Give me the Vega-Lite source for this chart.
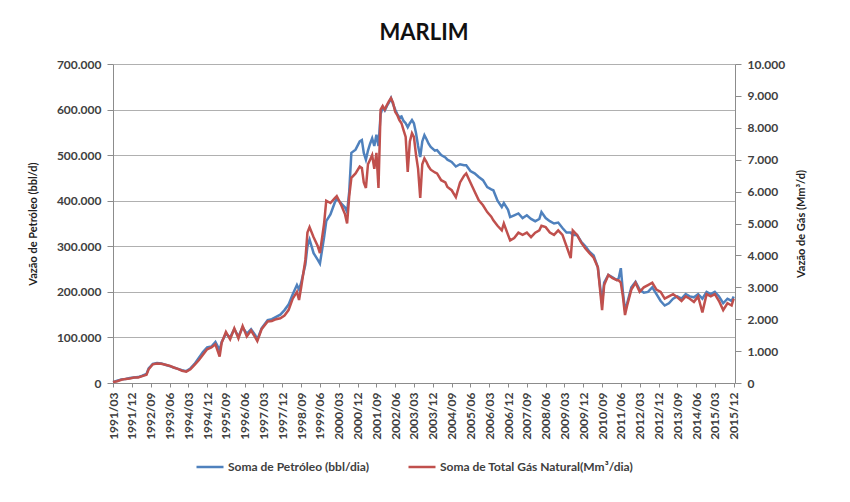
{
  "$schema": "https://vega.github.io/schema/vega-lite/v6.json",
  "width": 622,
  "height": 319,
  "autosize": {"type": "none"},
  "padding": {"left": 113, "top": 64, "right": 115, "bottom": 119},
  "background": "white",
  "title": {"text": "MARLIM", "fontSize": 22, "font": "Lato", "fontWeight": "bold", "color": "#111111", "offset": 13, "anchor": "middle"},
  "data": {"values": [
    {"date": "1991-03-01", "petroleo": 2000, "gas": 29},
    {"date": "1991-05-01", "petroleo": 5000, "gas": 57},
    {"date": "1991-07-01", "petroleo": 8000, "gas": 100},
    {"date": "1991-09-01", "petroleo": 9000, "gas": 129},
    {"date": "1991-11-01", "petroleo": 11000, "gas": 143},
    {"date": "1992-01-01", "petroleo": 12000, "gas": 171},
    {"date": "1992-03-01", "petroleo": 13000, "gas": 171},
    {"date": "1992-05-01", "petroleo": 16000, "gas": 214},
    {"date": "1992-07-01", "petroleo": 20000, "gas": 257},
    {"date": "1992-08-01", "petroleo": 32000, "gas": 429},
    {"date": "1992-10-01", "petroleo": 42000, "gas": 586},
    {"date": "1992-12-01", "petroleo": 44000, "gas": 614},
    {"date": "1993-02-01", "petroleo": 43000, "gas": 600},
    {"date": "1993-04-01", "petroleo": 40000, "gas": 571},
    {"date": "1993-06-01", "petroleo": 37000, "gas": 543},
    {"date": "1993-08-01", "petroleo": 34000, "gas": 486},
    {"date": "1993-10-01", "petroleo": 31000, "gas": 443},
    {"date": "1993-12-01", "petroleo": 28000, "gas": 386},
    {"date": "1994-02-01", "petroleo": 26000, "gas": 357},
    {"date": "1994-04-01", "petroleo": 32000, "gas": 429},
    {"date": "1994-06-01", "petroleo": 42000, "gas": 571},
    {"date": "1994-08-01", "petroleo": 55000, "gas": 714},
    {"date": "1994-10-01", "petroleo": 68000, "gas": 886},
    {"date": "1994-12-01", "petroleo": 78000, "gas": 1057},
    {"date": "1995-02-01", "petroleo": 80000, "gas": 1114},
    {"date": "1995-04-01", "petroleo": 90000, "gas": 1214},
    {"date": "1995-06-01", "petroleo": 72000, "gas": 829},
    {"date": "1995-07-01", "petroleo": 90000, "gas": 1257},
    {"date": "1995-09-01", "petroleo": 108000, "gas": 1600},
    {"date": "1995-11-01", "petroleo": 100000, "gas": 1371},
    {"date": "1996-01-01", "petroleo": 118000, "gas": 1714},
    {"date": "1996-03-01", "petroleo": 102000, "gas": 1400},
    {"date": "1996-05-01", "petroleo": 122000, "gas": 1786},
    {"date": "1996-07-01", "petroleo": 108000, "gas": 1457},
    {"date": "1996-09-01", "petroleo": 118000, "gas": 1643},
    {"date": "1996-11-01", "petroleo": 105000, "gas": 1429},
    {"date": "1996-12-01", "petroleo": 95000, "gas": 1314},
    {"date": "1997-02-01", "petroleo": 120000, "gas": 1686},
    {"date": "1997-05-01", "petroleo": 138000, "gas": 1929},
    {"date": "1997-07-01", "petroleo": 140000, "gas": 1943},
    {"date": "1997-09-01", "petroleo": 145000, "gas": 2000},
    {"date": "1997-11-01", "petroleo": 150000, "gas": 2029},
    {"date": "1998-01-01", "petroleo": 160000, "gas": 2114},
    {"date": "1998-03-01", "petroleo": 172000, "gas": 2286},
    {"date": "1998-05-01", "petroleo": 195000, "gas": 2643},
    {"date": "1998-07-01", "petroleo": 215000, "gas": 2857},
    {"date": "1998-08-01", "petroleo": 205000, "gas": 2600},
    {"date": "1998-09-01", "petroleo": 220000, "gas": 3000},
    {"date": "1998-11-01", "petroleo": 260000, "gas": 3857},
    {"date": "1998-12-01", "petroleo": 300000, "gas": 4714},
    {"date": "1999-01-01", "petroleo": 315000, "gas": 4886},
    {"date": "1999-03-01", "petroleo": 285000, "gas": 4571},
    {"date": "1999-05-01", "petroleo": 270000, "gas": 4286},
    {"date": "1999-06-01", "petroleo": 262000, "gas": 4071},
    {"date": "1999-08-01", "petroleo": 320000, "gas": 5000},
    {"date": "1999-09-01", "petroleo": 355000, "gas": 5714},
    {"date": "1999-11-01", "petroleo": 370000, "gas": 5643},
    {"date": "2000-01-01", "petroleo": 395000, "gas": 5786},
    {"date": "2000-02-01", "petroleo": 405000, "gas": 5857},
    {"date": "2000-04-01", "petroleo": 395000, "gas": 5600},
    {"date": "2000-06-01", "petroleo": 385000, "gas": 5286},
    {"date": "2000-07-01", "petroleo": 375000, "gas": 5000},
    {"date": "2000-08-01", "petroleo": 420000, "gas": 5857},
    {"date": "2000-09-01", "petroleo": 505000, "gas": 6429},
    {"date": "2000-11-01", "petroleo": 512000, "gas": 6571},
    {"date": "2001-01-01", "petroleo": 530000, "gas": 6786},
    {"date": "2001-02-01", "petroleo": 533000, "gas": 6743},
    {"date": "2001-03-01", "petroleo": 505000, "gas": 6286},
    {"date": "2001-04-01", "petroleo": 490000, "gas": 6114},
    {"date": "2001-05-01", "petroleo": 510000, "gas": 6857},
    {"date": "2001-06-01", "petroleo": 525000, "gas": 7000},
    {"date": "2001-07-01", "petroleo": 537000, "gas": 7143},
    {"date": "2001-08-01", "petroleo": 520000, "gas": 6714},
    {"date": "2001-09-01", "petroleo": 545000, "gas": 7214},
    {"date": "2001-10-01", "petroleo": 520000, "gas": 6114},
    {"date": "2001-11-01", "petroleo": 590000, "gas": 8571},
    {"date": "2001-12-01", "petroleo": 605000, "gas": 8686},
    {"date": "2002-01-01", "petroleo": 598000, "gas": 8571},
    {"date": "2002-02-01", "petroleo": 608000, "gas": 8714},
    {"date": "2002-03-01", "petroleo": 615000, "gas": 8829},
    {"date": "2002-04-01", "petroleo": 625000, "gas": 8929},
    {"date": "2002-05-01", "petroleo": 612000, "gas": 8786},
    {"date": "2002-06-01", "petroleo": 600000, "gas": 8500},
    {"date": "2002-07-01", "petroleo": 590000, "gas": 8400},
    {"date": "2002-08-01", "petroleo": 583000, "gas": 8243},
    {"date": "2002-09-01", "petroleo": 585000, "gas": 8143},
    {"date": "2002-10-01", "petroleo": 575000, "gas": 7929},
    {"date": "2002-11-01", "petroleo": 570000, "gas": 7714},
    {"date": "2002-12-01", "petroleo": 561000, "gas": 6614},
    {"date": "2003-01-01", "petroleo": 570000, "gas": 7571},
    {"date": "2003-02-01", "petroleo": 577000, "gas": 7829},
    {"date": "2003-03-01", "petroleo": 570000, "gas": 7714},
    {"date": "2003-04-01", "petroleo": 548000, "gas": 7143},
    {"date": "2003-05-01", "petroleo": 520000, "gas": 6714},
    {"date": "2003-06-01", "petroleo": 496000, "gas": 5800},
    {"date": "2003-07-01", "petroleo": 530000, "gas": 6857},
    {"date": "2003-08-01", "petroleo": 544000, "gas": 7043},
    {"date": "2003-09-01", "petroleo": 535000, "gas": 6929},
    {"date": "2003-10-01", "petroleo": 525000, "gas": 6786},
    {"date": "2003-11-01", "petroleo": 518000, "gas": 6686},
    {"date": "2004-01-01", "petroleo": 510000, "gas": 6600},
    {"date": "2004-02-01", "petroleo": 511000, "gas": 6571},
    {"date": "2004-04-01", "petroleo": 500000, "gas": 6357},
    {"date": "2004-06-01", "petroleo": 495000, "gas": 6286},
    {"date": "2004-07-01", "petroleo": 490000, "gas": 6143},
    {"date": "2004-09-01", "petroleo": 485000, "gas": 6043},
    {"date": "2004-11-01", "petroleo": 475000, "gas": 5829},
    {"date": "2005-01-01", "petroleo": 480000, "gas": 6286},
    {"date": "2005-03-01", "petroleo": 478000, "gas": 6500},
    {"date": "2005-04-01", "petroleo": 478000, "gas": 6571},
    {"date": "2005-06-01", "petroleo": 465000, "gas": 6286},
    {"date": "2005-08-01", "petroleo": 460000, "gas": 6000},
    {"date": "2005-10-01", "petroleo": 452000, "gas": 5729},
    {"date": "2005-12-01", "petroleo": 445000, "gas": 5571},
    {"date": "2006-02-01", "petroleo": 430000, "gas": 5357},
    {"date": "2006-04-01", "petroleo": 425000, "gas": 5214},
    {"date": "2006-05-01", "petroleo": 423000, "gas": 5100},
    {"date": "2006-07-01", "petroleo": 400000, "gas": 4929},
    {"date": "2006-09-01", "petroleo": 386000, "gas": 4786},
    {"date": "2006-10-01", "petroleo": 395000, "gas": 5000},
    {"date": "2006-12-01", "petroleo": 380000, "gas": 4643},
    {"date": "2007-01-01", "petroleo": 364000, "gas": 4471},
    {"date": "2007-03-01", "petroleo": 368000, "gas": 4543},
    {"date": "2007-05-01", "petroleo": 372000, "gas": 4714},
    {"date": "2007-07-01", "petroleo": 362000, "gas": 4643},
    {"date": "2007-09-01", "petroleo": 368000, "gas": 4714},
    {"date": "2007-11-01", "petroleo": 360000, "gas": 4571},
    {"date": "2008-01-01", "petroleo": 355000, "gas": 4714},
    {"date": "2008-03-01", "petroleo": 360000, "gas": 4786},
    {"date": "2008-04-01", "petroleo": 375000, "gas": 4929},
    {"date": "2008-06-01", "petroleo": 362000, "gas": 4886},
    {"date": "2008-08-01", "petroleo": 355000, "gas": 4714},
    {"date": "2008-10-01", "petroleo": 350000, "gas": 4643},
    {"date": "2008-12-01", "petroleo": 352000, "gas": 4786},
    {"date": "2009-02-01", "petroleo": 340000, "gas": 4643},
    {"date": "2009-04-01", "petroleo": 330000, "gas": 4286},
    {"date": "2009-06-01", "petroleo": 330000, "gas": 3914},
    {"date": "2009-07-01", "petroleo": 325000, "gas": 4786},
    {"date": "2009-09-01", "petroleo": 325000, "gas": 4643},
    {"date": "2009-11-01", "petroleo": 310000, "gas": 4400},
    {"date": "2010-01-01", "petroleo": 300000, "gas": 4214},
    {"date": "2010-03-01", "petroleo": 288000, "gas": 4071},
    {"date": "2010-05-01", "petroleo": 280000, "gas": 3929},
    {"date": "2010-07-01", "petroleo": 254000, "gas": 3629},
    {"date": "2010-09-01", "petroleo": 175000, "gas": 2286},
    {"date": "2010-10-01", "petroleo": 220000, "gas": 3071},
    {"date": "2010-12-01", "petroleo": 237000, "gas": 3386},
    {"date": "2011-02-01", "petroleo": 232000, "gas": 3286},
    {"date": "2011-04-01", "petroleo": 226000, "gas": 3229},
    {"date": "2011-05-01", "petroleo": 230000, "gas": 3214},
    {"date": "2011-06-01", "petroleo": 252000, "gas": 3143},
    {"date": "2011-07-01", "petroleo": 200000, "gas": 2714},
    {"date": "2011-08-01", "petroleo": 160000, "gas": 2129},
    {"date": "2011-09-01", "petroleo": 175000, "gas": 2429},
    {"date": "2011-11-01", "petroleo": 210000, "gas": 2929},
    {"date": "2012-01-01", "petroleo": 222000, "gas": 3143},
    {"date": "2012-03-01", "petroleo": 205000, "gas": 2857},
    {"date": "2012-05-01", "petroleo": 198000, "gas": 3000},
    {"date": "2012-07-01", "petroleo": 200000, "gas": 3071},
    {"date": "2012-09-01", "petroleo": 210000, "gas": 3143},
    {"date": "2012-11-01", "petroleo": 195000, "gas": 2929},
    {"date": "2013-01-01", "petroleo": 180000, "gas": 2857},
    {"date": "2013-03-01", "petroleo": 170000, "gas": 2643},
    {"date": "2013-05-01", "petroleo": 175000, "gas": 2714},
    {"date": "2013-07-01", "petroleo": 185000, "gas": 2786},
    {"date": "2013-09-01", "petroleo": 190000, "gas": 2686},
    {"date": "2013-11-01", "petroleo": 185000, "gas": 2571},
    {"date": "2014-01-01", "petroleo": 195000, "gas": 2714},
    {"date": "2014-03-01", "petroleo": 190000, "gas": 2643},
    {"date": "2014-05-01", "petroleo": 188000, "gas": 2543},
    {"date": "2014-07-01", "petroleo": 195000, "gas": 2714},
    {"date": "2014-09-01", "petroleo": 185000, "gas": 2214},
    {"date": "2014-11-01", "petroleo": 200000, "gas": 2786},
    {"date": "2015-01-01", "petroleo": 195000, "gas": 2714},
    {"date": "2015-03-01", "petroleo": 200000, "gas": 2786},
    {"date": "2015-05-01", "petroleo": 190000, "gas": 2571},
    {"date": "2015-07-01", "petroleo": 175000, "gas": 2286},
    {"date": "2015-09-01", "petroleo": 185000, "gas": 2500},
    {"date": "2015-11-01", "petroleo": 180000, "gas": 2429},
    {"date": "2015-12-01", "petroleo": 190000, "gas": 2643}
  ]},
  "encoding": {
    "x": {
      "field": "date", "type": "temporal",
      "scale": {"type": "utc", "domain": [{"year": 1991, "month": 3, "date": 1, "utc": true}, {"year": 2015, "month": 12, "date": 20, "utc": true}]},
      "axis": {
        "title": null, "grid": false,
        "labelExpr": "utcFormat(datum.value, '%Y/%m')",
        "values": [
          {"year": 1991, "month": 3, "date": 1, "utc": true}, {"year": 1991, "month": 12, "date": 1, "utc": true},
          {"year": 1992, "month": 9, "date": 1, "utc": true}, {"year": 1993, "month": 6, "date": 1, "utc": true},
          {"year": 1994, "month": 3, "date": 1, "utc": true}, {"year": 1994, "month": 12, "date": 1, "utc": true},
          {"year": 1995, "month": 9, "date": 1, "utc": true}, {"year": 1996, "month": 6, "date": 1, "utc": true},
          {"year": 1997, "month": 3, "date": 1, "utc": true}, {"year": 1997, "month": 12, "date": 1, "utc": true},
          {"year": 1998, "month": 9, "date": 1, "utc": true}, {"year": 1999, "month": 6, "date": 1, "utc": true},
          {"year": 2000, "month": 3, "date": 1, "utc": true}, {"year": 2000, "month": 12, "date": 1, "utc": true},
          {"year": 2001, "month": 9, "date": 1, "utc": true}, {"year": 2002, "month": 6, "date": 1, "utc": true},
          {"year": 2003, "month": 3, "date": 1, "utc": true}, {"year": 2003, "month": 12, "date": 1, "utc": true},
          {"year": 2004, "month": 9, "date": 1, "utc": true}, {"year": 2005, "month": 6, "date": 1, "utc": true},
          {"year": 2006, "month": 3, "date": 1, "utc": true}, {"year": 2006, "month": 12, "date": 1, "utc": true},
          {"year": 2007, "month": 9, "date": 1, "utc": true}, {"year": 2008, "month": 6, "date": 1, "utc": true},
          {"year": 2009, "month": 3, "date": 1, "utc": true}, {"year": 2009, "month": 12, "date": 1, "utc": true},
          {"year": 2010, "month": 9, "date": 1, "utc": true}, {"year": 2011, "month": 6, "date": 1, "utc": true},
          {"year": 2012, "month": 3, "date": 1, "utc": true}, {"year": 2012, "month": 12, "date": 1, "utc": true},
          {"year": 2013, "month": 9, "date": 1, "utc": true}, {"year": 2014, "month": 6, "date": 1, "utc": true},
          {"year": 2015, "month": 3, "date": 1, "utc": true}, {"year": 2015, "month": 12, "date": 1, "utc": true}
        ],
        "labelAngle": 270, "labelAlign": "right", "labelBaseline": "middle",
        "labelFont": "Lato", "labelFontSize": 12, "labelFontWeight": "bold", "labelColor": "#404040",
        "labelOverlap": false, "labelPadding": 5, "labelFlush": false, "labelBound": false,
        "domainColor": "#8C8C8C", "tickColor": "#8C8C8C", "tickSize": 4
      }
    }
  },
  "layer": [
    {
      "mark": {"type": "line", "strokeWidth": 2.5},
      "encoding": {
        "y": {
          "field": "petroleo", "type": "quantitative",
          "scale": {"domain": [0, 700000], "nice": false},
          "axis": {
            "title": "Vazão de Petróleo (bbl/d)", "values": [0, 100000, 200000, 300000, 400000, 500000, 600000, 700000],
            "format": ",d", "grid": true, "gridColor": "#B0B0B0", "gridWidth": 1.2,
            "labelFont": "Lato", "labelFontSize": 12, "labelFontWeight": "bold", "labelColor": "#404040", "labelPadding": 6,
            "titleFont": "Lato", "titleFontSize": 11, "titleFontWeight": "bold", "titleColor": "#222222", "titlePadding": 18,
            "domainColor": "#8C8C8C", "tickColor": "#8C8C8C", "tickSize": 6
          }
        },
        "color": {
          "datum": "Soma de Petróleo (bbl/dia)",
          "scale": {"domain": ["Soma de Petróleo (bbl/dia)", "Soma de Total Gás Natural(Mm³/dia)"], "range": ["#4F81BD", "#C0504D"]},
          "legend": {
            "orient": "none", "legendX": 82, "legendY": 388, "direction": "horizontal", "title": null,
            "symbolType": "stroke", "symbolSize": 729, "symbolStrokeWidth": 2.5,
            "labelFont": "Lato", "labelFontSize": 12, "labelFontWeight": "bold", "labelColor": "#404040",
            "labelOffset": 3, "labelLimit": 0, "columnPadding": 34, "padding": 0
          }
        }
      }
    },
    {
      "mark": {"type": "line", "strokeWidth": 2.5},
      "encoding": {
        "y": {
          "field": "gas", "type": "quantitative",
          "scale": {"domain": [0, 10000], "nice": false},
          "axis": {
            "orient": "right", "title": "Vazão de Gás (Mm³/d)",
            "values": [0, 1000, 2000, 3000, 4000, 5000, 6000, 7000, 8000, 9000, 10000],
            "format": ",d", "grid": false,
            "labelFont": "Lato", "labelFontSize": 12, "labelFontWeight": "bold", "labelColor": "#404040", "labelPadding": 6,
            "titleFont": "Lato", "titleFontSize": 11, "titleFontWeight": "bold", "titleColor": "#222222", "titlePadding": 22,
            "titleAngle": 270,
            "domainColor": "#8C8C8C", "tickColor": "#8C8C8C", "tickSize": 6
          }
        },
        "color": {"datum": "Soma de Total Gás Natural(Mm³/dia)"}
      }
    }
  ],
  "resolve": {"scale": {"y": "independent"}},
  "config": {
    "locale": {"number": {"decimal": ",", "thousands": ".", "grouping": [3], "currency": ["R$", ""]}},
    "view": {"stroke": null}
  }
}
